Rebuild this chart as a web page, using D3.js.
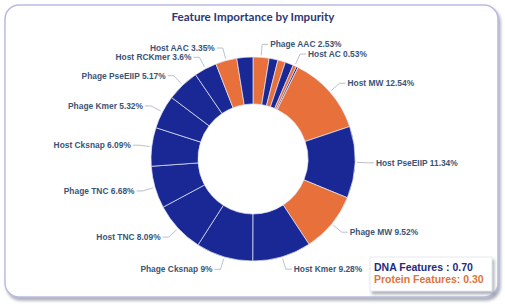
<!DOCTYPE html>
<html>
<head>
<meta charset="utf-8">
<script src="https://cdn.jsdelivr.net/npm/d3@7"></script>
<style>
  body { margin: 0; background: #fff; }
  .title { font-family: Lato, sans-serif; font-weight: bold; font-size: 11.6px; fill: #2e3775; text-anchor: middle; }
  .lbl { font-family: "Liberation Sans", Arial, sans-serif; font-weight: bold; font-size: 8.4px; fill: #3b5577; }
  .leader { fill: none; stroke: #a7b1c0; stroke-width: 0.8; }
  .legend { font-family: "Liberation Sans", Arial, sans-serif; font-weight: bold; font-size: 10.5px; }
</style>
</head>
<body>
<div id="chart"></div>
<script>
// clockwise from 12 o'clock
const features = [
  "Phage AAC", "Phage RCKmer", "Phage AC", "Host DAC", "Host AC", "Phage DAC",
  "Host MW", "Host PseEIIP", "Phage MW", "Host Kmer", "Phage Cksnap", "Host TNC",
  "Phage TNC", "Host Cksnap", "Phage Kmer", "Phage PseEIIP", "Host RCKmer", "Host AAC", "Host DCC"
];
const importance = [
  2.53, 1.4, 1.2, 1.3, 0.53, 0.3,
  12.54, 11.34, 9.52, 9.28, 9, 8.09,
  6.68, 6.09, 5.32, 5.17, 3.6, 3.35, 2.55
];
const featureType = [
  "Protein", "DNA", "Protein", "DNA", "Protein", "DNA",
  "Protein", "DNA", "Protein", "DNA", "DNA", "DNA",
  "DNA", "DNA", "DNA", "DNA", "DNA", "Protein", "DNA"
];
const labelText = [
  "Phage AAC 2.53%", "", "", "", "Host AC 0.53%", "",
  "Host MW 12.54%", "Host PseEIIP 11.34%", "Phage MW 9.52%", "Host Kmer 9.28%", "Phage Cksnap 9%", "Host TNC 8.09%",
  "Phage TNC 6.68%", "Host Cksnap 6.09%", "Phage Kmer 5.32%", "Phage PseEIIP 5.17%", "Host RCKmer 3.6%", "Host AAC 3.35%", ""
];
const groupTotals = [["DNA Features : 0.70", "DNA"], ["Protein Features: 0.30", "Protein"]];

const width = 505, height = 307;
const cx = 253, cy = 159, outerR = 102, innerR = 55;

const color = d3.scaleOrdinal().domain(["DNA", "Protein"]).range(["#1a2896", "#e8703a"]);

const svg = d3.select("#chart").append("svg")
  .attr("width", width).attr("height", height);

const defs = svg.append("defs");
const sh = defs.append("filter").attr("id", "shadow").attr("x", "-10%").attr("y", "-10%").attr("width", "130%").attr("height", "130%");
sh.append("feDropShadow").attr("dx", 2).attr("dy", 3).attr("stdDeviation", 1.6).attr("flood-color", "#6b6f80").attr("flood-opacity", 0.55);

// card frame
svg.append("rect")
  .attr("x", 5).attr("y", 5).attr("width", 493).attr("height", 292)
  .attr("rx", 14)
  .attr("fill", "#fff")
  .attr("stroke", "#b9bce0").attr("stroke-width", 1.5)
  .attr("filter", "url(#shadow)");

svg.append("text")
  .attr("class", "title")
  .attr("x", cx).attr("y", 21)
  .text("Feature Importance by Impurity");

const rows = features.map((f, i) => ({ name: f, value: importance[i], type: featureType[i], label: labelText[i] }));

const pie = d3.pie().sort(null).value(d => d.value);
const arcs = pie(rows);
const arc = d3.arc().innerRadius(innerR).outerRadius(outerR);

const g = svg.append("g").attr("transform", `translate(${cx},${cy})`);

g.selectAll(".slice")
  .data(arcs).enter()
  .append("path")
    .attr("class", "slice")
    .attr("d", arc)
    .attr("fill", d => color(d.data.type))
    .attr("stroke", "#e6e8f4")
    .attr("stroke-width", 0.7);

// labels with short elbow leaders
const pt = (a, r) => [r * Math.sin(a), -r * Math.cos(a)];
const labelled = arcs.filter(d => d.data.label);

const lab = g.selectAll(".lab")
  .data(labelled).enter()
  .append("g").attr("class", "lab");

lab.append("polyline")
  .attr("class", "leader")
  .attr("points", d => {
    const a = (d.startAngle + d.endAngle) / 2;
    const side = Math.sin(a) >= 0 ? 1 : -1;
    const p0 = pt(a, outerR + 2), p1 = pt(a, outerR + 13);
    return [p0, p1, [p1[0] + side * 6, p1[1]]].map(p => p.join(",")).join(" ");
  });

lab.append("text")
  .attr("class", "lbl")
  .attr("x", d => {
    const a = (d.startAngle + d.endAngle) / 2;
    const side = Math.sin(a) >= 0 ? 1 : -1;
    return pt(a, outerR + 13)[0] + side * 8;
  })
  .attr("y", d => pt((d.startAngle + d.endAngle) / 2, outerR + 13)[1])
  .attr("dy", "0.35em")
  .attr("text-anchor", d => Math.sin((d.startAngle + d.endAngle) / 2) >= 0 ? "start" : "end")
  .text(d => d.data.label);

// totals box
const box = svg.append("g").attr("transform", "translate(370,257)");
box.append("rect")
  .attr("width", 122).attr("height", 34)
  .attr("fill", "#fff")
  .attr("stroke", "#e2e3ea").attr("stroke-width", 0.8)
  .attr("filter", "url(#shadow)");
box.selectAll("text")
  .data(groupTotals).enter()
  .append("text")
    .attr("class", "legend")
    .attr("x", 4)
    .attr("y", (d, i) => 14 + i * 12)
    .attr("fill", d => d[1] === "DNA" ? "#1f2a80" : "#e0733a")
    .text(d => d[0]);
</script>
</body>
</html>
